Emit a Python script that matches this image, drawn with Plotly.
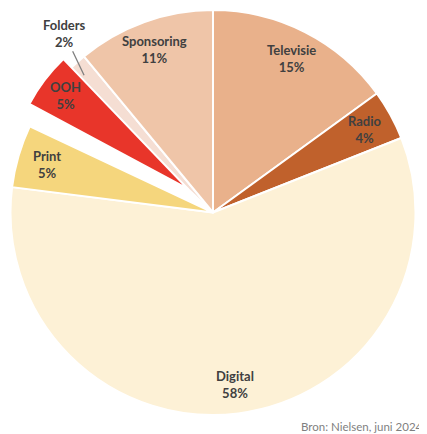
import math
import plotly.graph_objects as go

labels = ["Televisie", "Radio", "Digital", "Print", "OOH", "Folders", "Sponsoring"]
values = [15, 4, 58, 5, 5, 2, 11]
colors = ["#E9B18B", "#C0612C", "#FDF1D6", "#F5D67D", "#E8352A", "#F5DED3", "#EFC5A8"]
exploded = "OOH"
outside_label = "Folders"
source_text = "Bron: Nielsen, juni 2024"

# figure geometry (page body has an 8px margin)
W, H = 419, 426
domA = dict(x=[2/419, 408/419], y=[19/426, 424/426])
domB = dict(x=[0, 360/419], y=[65/426, 425/426])
rotA, rotB = 0, 3
label_frac = 0.855

TRANSPARENT = "rgba(0,0,0,0)"
FONT = "Lato"
TXT = "#404040"

colA = [TRANSPARENT if l == exploded else c for l, c in zip(labels, colors)]
lineA = [TRANSPARENT if l == exploded else "white" for l in labels]
colB = [c if l == exploded else TRANSPARENT for l, c in zip(labels, colors)]
lineB = ["white" if l == exploded else TRANSPARENT for l in labels]

fig = go.Figure()
fig.add_trace(go.Pie(
    labels=labels, values=values, sort=False, direction="clockwise", rotation=rotA,
    marker=dict(colors=colA, line=dict(color=lineA, width=2)),
    textinfo="none", domain=domA, showlegend=False, hoverinfo="label+percent",
))
fig.add_trace(go.Pie(
    labels=labels, values=values, sort=False, direction="clockwise", rotation=rotB,
    marker=dict(colors=colB, line=dict(color=lineB, width=2)),
    textinfo="none", domain=domB, showlegend=False, hoverinfo="label+percent",
))


def geom(dom):
    x0, x1 = dom["x"][0] * W, dom["x"][1] * W
    y0, y1 = (1 - dom["y"][1]) * H, (1 - dom["y"][0]) * H
    return (x0 + x1) / 2, (y0 + y1) / 2, min(x1 - x0, y1 - y0) / 2


total = sum(values)
cum = 0
for lab, v in zip(labels, values):
    mid = (cum + v / 2) / total * 360
    cum += v
    if lab == exploded:
        cx, cy, r = geom(domB)
        ang = math.radians(mid + rotB)
    else:
        cx, cy, r = geom(domA)
        ang = math.radians(mid + rotA)
    pct = f"{round(100 * v / total)}%"
    text = f"<b>{lab}<br>{pct}</b>"
    if lab == outside_label:
        px = cx + 0.93 * r * math.sin(ang)
        py = cy - 0.93 * r * math.cos(ang)
        fig.add_annotation(x=px / W, y=1 - py / H, xref="paper", yref="paper",
                           text=text, showarrow=True, arrowhead=0, arrowwidth=1.3,
                           arrowcolor="#7F7F7F", ax=-20, ay=-42, standoff=0,
                           font=dict(family=FONT, size=13, color=TXT))
    else:
        px = cx + label_frac * r * math.sin(ang)
        py = cy - label_frac * r * math.cos(ang)
        fig.add_annotation(x=px / W, y=1 - py / H, xref="paper", yref="paper",
                           xanchor="center", yanchor="middle",
                           text=text, showarrow=False,
                           font=dict(family=FONT, size=13, color=TXT))

fig.add_annotation(text=source_text, x=1, y=0, xref="paper", yref="paper",
                   xanchor="right", yanchor="bottom", showarrow=False,
                   xshift=-2, yshift=-1,
                   font=dict(family=FONT, size=11.5, color="#7F7F7F"))
fig.update_layout(width=W, height=H, margin=dict(l=0, r=0, t=0, b=0),
                  paper_bgcolor="white", plot_bgcolor="white")
fig.write_html("out.html")
